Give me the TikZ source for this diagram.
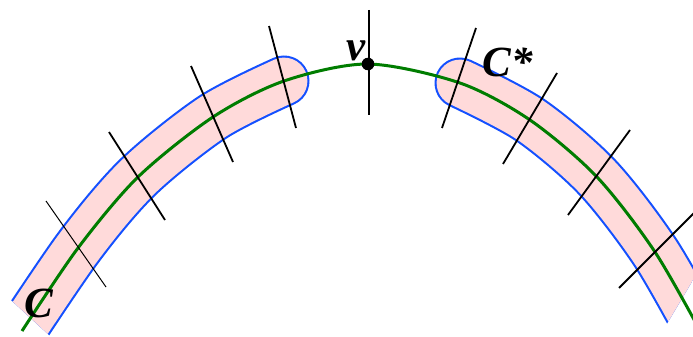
\documentclass[tikz,border=0pt]{standalone}
\usepackage{fontspec}
\setmainfont{Liberation Serif}
\definecolor{bandedge}{RGB}{20,80,255}
\definecolor{bandfill}{RGB}{255,218,218}
\definecolor{curvegreen}{RGB}{0,125,0}
\begin{document}
\begin{tikzpicture}[x=1pt,y=-1pt,
  bandblue/.style={draw=bandedge, line width=51pt, line cap=round, line join=round},
  bandpink/.style={draw=bandfill, line width=46.8pt, line cap=round, line join=round},
  curve/.style={draw=curvegreen, line width=3pt},
  tickline/.style={draw=black, line width=1.8pt},
  thintick/.style={draw=black, line width=1pt},
  lbl/.style={font=\fontsize{43}{43}\selectfont\bfseries\itshape, inner sep=0pt, anchor=base}]
\useasboundingbox (0,0) rectangle (693,337);
\clip (0,0) rectangle (693,337);
% left band
\begin{scope}
  \clip (-102,196) -- (164,441) -- (800,441) -- (800,-100) -- (-102,-100) -- cycle;
  \draw[bandblue] plot[smooth] coordinates {(5,356) (78,248) (138,177) (213,117) (284,81)};
  \draw[bandpink] plot[smooth] coordinates {(5,356) (78,248) (138,177) (213,117) (284,81)};
\end{scope}
% right band
\begin{scope}
  \clip (605,428) -- (759,169) -- (759,-100) -- (300,-100) -- (300,428) -- cycle;
  \draw[bandblue] plot[smooth] coordinates {(460,83) (530,120) (597,177) (655,252) (704,338)};
  \draw[bandpink] plot[smooth] coordinates {(460,83) (530,120) (597,177) (655,252) (704,338)};
\end{scope}
% green curve
\draw[curve] plot[smooth] coordinates {(22,331) (78,248) (138,177) (213,117) (284,81) (368,64) (460,83) (530,120) (597,177) (655,252) (704,338)};
% ticks
\coordinate (l0a) at (46,201); \coordinate (l0b) at (106,287);
\coordinate (l1a) at (109,132); \coordinate (l1b) at (165,220);
\coordinate (l2a) at (191,66); \coordinate (l2b) at (233,162);
\coordinate (l3a) at (269,26); \coordinate (l3b) at (296,128);
\coordinate (va) at (369,10); \coordinate (vb) at (369,115);
\coordinate (r1a) at (476,28); \coordinate (r1b) at (442,128);
\coordinate (r2a) at (557,73); \coordinate (r2b) at (503,164);
\coordinate (r3a) at (630,130); \coordinate (r3b) at (568,215);
\coordinate (r4a) at (697,210); \coordinate (r4b) at (619,288);
\draw[thintick] (l0a) -- (l0b);
\draw[tickline] (l1a) -- (l1b);
\draw[tickline] (l2a) -- (l2b);
\draw[tickline] (l3a) -- (l3b);
\draw[tickline] (va) -- (vb);
\draw[tickline] (r1a) -- (r1b);
\draw[tickline] (r2a) -- (r2b);
\draw[tickline] (r3a) -- (r3b);
\draw[tickline] (r4a) -- (r4b);
% vertex
\fill[black] (368,64) circle (6.3pt) coordinate (vdot);
% labels
\node[lbl] (labC) at (39,317) {C};
\node[lbl] (labCs) at (508,77) {C*};
\node[lbl] (labv) at (356,60) {v};
\end{tikzpicture}
\end{document}
